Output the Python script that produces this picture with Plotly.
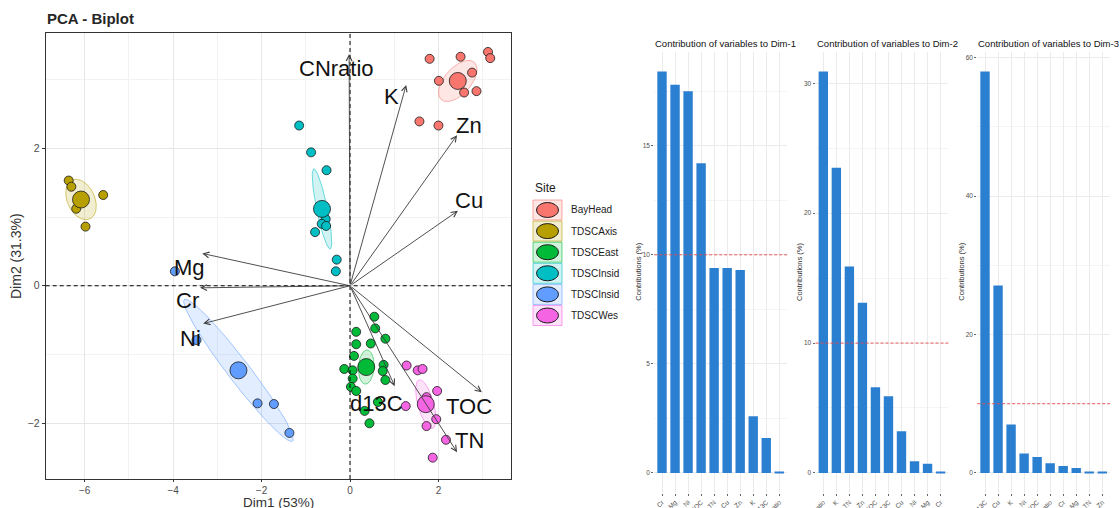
import numpy as np
import plotly.graph_objects as go

W, H = 1120, 508
FONT = "Liberation Sans, Arial, sans-serif"

# ---------------- DATA ----------------
site_labels = ["BayHead", "TDSCAxis", "TDSCEast", "TDSCInsid", "TDSCInsid", "TDSCWes"]
site_colors = ["#F8766D", "#B79F00", "#00BA38", "#00BFC4", "#619CFF", "#F564E3"]

bayhead_x = [1.80, 2.50, 3.12, 3.17, 2.76, 2.01, 2.58, 2.86, 1.57, 2.00]
bayhead_y = [3.30, 3.33, 3.40, 3.31, 3.10, 2.98, 2.81, 2.83, 2.39, 2.33]
axis_x = [-6.36, -6.30, -5.58, -6.19, -5.98]
axis_y = [1.53, 1.44, 1.32, 1.12, 0.86]
east_x = [0.55, 0.14, 0.57, 0.80, 0.14, 0.47, 0.09, 0.76, -0.13, 0.06, 0.74, 0.06, 0.80, 0.02, 0.14, 0.63, 0.33, 0.44]
east_y = [-0.45, -0.67, -0.62, -0.77, -0.85, -0.84, -1.02, -1.15, -1.21, -1.23, -1.24, -1.35, -1.37, -1.47, -1.53, -1.69, -1.82, -2.00]
inside1_x = [-1.15, -0.88, -0.53, -0.55, -0.64, -0.54, -0.79, -0.30, -0.32]
inside1_y = [2.33, 1.94, 1.68, 0.97, 0.90, 0.87, 0.78, 0.38, 0.21]
inside2_x = [-3.96, -3.47, -2.09, -1.72, -1.37]
inside2_y = [0.21, -0.79, -1.71, -1.72, -2.14]
west_x = [1.28, 1.53, 1.64, 1.97, 1.26, 1.73, 1.95, 1.73, 2.17, 1.87]
west_y = [-1.16, -1.23, -1.21, -1.53, -1.75, -1.62, -1.94, -2.04, -2.24, -2.50]

var_names = ["CNratio", "K", "Zn", "Cu", "Mg", "Cr", "Ni", "d13C", "TOC", "TN"]
var_x = [-0.02, 1.27, 2.42, 2.44, -3.34, -3.39, -3.32, 1.01, 2.98, 2.42]
var_y = [3.37, 2.92, 2.19, 1.09, 0.47, -0.03, -0.55, -1.46, -1.55, -2.42]

dim1_vars = ["Cr", "Mg", "Ni", "TOC", "TN", "Cu", "Zn", "K", "d13C", "CNratio"]
dim1_vals = [18.4, 17.8, 17.5, 14.2, 9.4, 9.4, 9.3, 2.6, 1.6, 0.05]
dim2_vars = ["CNratio", "K", "TN", "Zn", "TOC", "d13C", "Cu", "Ni", "Mg", "Cr"]
dim2_vals = [30.9, 23.5, 15.9, 13.1, 6.6, 5.9, 3.2, 0.9, 0.7, 0.05]
dim3_vars = ["d13C", "Cu", "K", "Ni", "TOC", "CNratio", "Cr", "Mg", "TN", "Zn"]
dim3_vals = [58.0, 27.1, 7.0, 2.8, 2.3, 1.4, 1.0, 0.7, 0.2, 0.2]

groups_x = [bayhead_x, axis_x, east_x, inside1_x, inside2_x, west_x]
groups_y = [bayhead_y, axis_y, east_y, inside1_y, inside2_y, west_y]


# ---------------- helpers ----------------
def px_x(p):
    return p / W


def px_y(p):
    return 1 - p / H


def rgba(hexc, a):
    h = hexc.lstrip("#")
    r, g, b = int(h[0:2], 16), int(h[2:4], 16), int(h[4:6], 16)
    return f"rgba({r},{g},{b},{a})"


def conf_ellipse(x, y, chi2=5.991, n=120):
    x = np.asarray(x, float)
    y = np.asarray(y, float)
    cov = np.cov(x, y) / len(x)
    vals, vecs = np.linalg.eigh(cov)
    t = np.linspace(0, 2 * np.pi, n)
    circ = np.stack([np.cos(t), np.sin(t)])
    pts = vecs @ (np.sqrt(np.maximum(vals, 0))[:, None] * circ) * np.sqrt(chi2)
    return x.mean() + pts[0], y.mean() + pts[1]


fig = go.Figure()

# ---------------- biplot ----------------
for gx, gy, col in zip(groups_x, groups_y, site_colors):
    ex, ey = conf_ellipse(gx, gy)
    fig.add_trace(go.Scatter(x=ex, y=ey, mode="lines", fill="toself",
                             fillcolor=rgba(col, 0.18), line=dict(color=rgba(col, 0.55), width=1),
                             hoverinfo="skip", showlegend=False, xaxis="x", yaxis="y"))
for gx, gy, col, nm in zip(groups_x, groups_y, site_colors, site_labels):
    fig.add_trace(go.Scatter(x=gx, y=gy, mode="markers", name=nm,
                             marker=dict(size=9, color=col, line=dict(color="#1a1a1a", width=0.8)),
                             showlegend=False, xaxis="x", yaxis="y"))
for gx, gy, col, nm in zip(groups_x, groups_y, site_colors, site_labels):
    fig.add_trace(go.Scatter(x=[float(np.mean(gx))], y=[float(np.mean(gy))], mode="markers", name=nm,
                             marker=dict(size=17, color=col, line=dict(color="#1a1a1a", width=0.8)),
                             showlegend=False, xaxis="x", yaxis="y"))

annotations = []
shapes = []

# label offsets (pixels) relative to arrow tips
label_shift = {
    "CNratio": (-13, -14), "K": (-15, -12), "Zn": (12, 10), "Cu": (11, 10),
    "Mg": (-13, -14), "Cr": (-13, -13), "Ni": (-13, -15), "d13C": (-18, -17),
    "TOC": (-13, -14), "TN": (12, 12),
}
for nm, vx, vy in zip(var_names, var_x, var_y):
    annotations.append(dict(x=vx, y=vy, ax=0, ay=0, xref="x", yref="y", axref="x", ayref="y",
                            text="", showarrow=True, arrowhead=5, arrowsize=1.25, arrowwidth=0.9,
                            arrowcolor="#3c3c3c", standoff=0, startstandoff=0))
for nm, vx, vy in zip(var_names, var_x, var_y):
    dx, dy = label_shift[nm]
    annotations.append(dict(x=vx, y=vy, xref="x", yref="y", text=nm, showarrow=False,
                            xshift=dx, yshift=dy, xanchor="center", yanchor="middle",
                            font=dict(family=FONT, size=22, color="#111111")))

# zero dashed lines
shapes.append(dict(type="line", xref="x domain", yref="y", x0=0, x1=1, y0=0, y1=0,
                   line=dict(color="#000000", width=1, dash="4px,3px"), layer="above"))
shapes.append(dict(type="line", xref="x", yref="y domain", x0=0, x1=0, y0=0, y1=1,
                   line=dict(color="#000000", width=1, dash="4px,3px"), layer="above"))

# title and axis titles
annotations.append(dict(x=px_x(45), y=px_y(18), xref="paper", yref="paper", text="<b>PCA - Biplot</b>",
                        showarrow=False, xanchor="left", yanchor="middle",
                        font=dict(family=FONT, size=15, color="#262626")))
annotations.append(dict(x=px_x(278), y=px_y(502), xref="paper", yref="paper", text="Dim1 (53%)",
                        showarrow=False, xanchor="center", yanchor="middle",
                        font=dict(family=FONT, size=13.5, color="#333333")))
annotations.append(dict(x=px_x(16), y=px_y(256), xref="paper", yref="paper", text="Dim2 (31.3%)",
                        showarrow=False, xanchor="center", yanchor="middle", textangle=-90,
                        font=dict(family=FONT, size=14, color="#333333")))

# manual legend
annotations.append(dict(x=px_x(533), y=px_y(188), xref="paper", yref="paper", text="Site",
                        showarrow=False, xanchor="left", yanchor="middle",
                        font=dict(family=FONT, size=12, color="#1a1a1a")))
for i, (nm, col) in enumerate(zip(site_labels, site_colors)):
    cy = 210 + i * 21.1
    shapes.append(dict(type="rect", xref="paper", yref="paper",
                       x0=px_x(533), x1=px_x(562), y0=px_y(cy - 10), y1=px_y(cy + 10),
                       fillcolor=rgba(col, 0.18), line=dict(color=rgba(col, 0.6), width=1)))
    shapes.append(dict(type="circle", xref="paper", yref="paper",
                       x0=px_x(536.5), x1=px_x(558.5), y0=px_y(cy - 7.5), y1=px_y(cy + 7.5),
                       fillcolor=col, line=dict(color="#1a1a1a", width=1)))
    annotations.append(dict(x=px_x(569), y=px_y(cy), xref="paper", yref="paper", text=nm,
                            showarrow=False, xanchor="left", yanchor="middle",
                            font=dict(family=FONT, size=10, color="#1a1a1a")))

# ---------------- contribution bar charts ----------------
bar_sets = [(dim1_vars, dim1_vals, "Dim-1", 654.2, 5),
            (dim2_vars, dim2_vals, "Dim-2", 815.5, 10),
            (dim3_vars, dim3_vals, "Dim-3", 977.2, 20)]
bar_top, bar_bot = 51.5, 493.0
panel_w = 132.9
bar_color = "#2B7FD0"

layout_axes = {}
for k, (cats, vals, dname, left, dt) in enumerate(bar_sets):
    ax_i = k + 2
    xa, ya = f"x{ax_i}", f"y{ax_i}"
    fig.add_trace(go.Bar(x=cats, y=vals, width=0.72, marker=dict(color=bar_color, line=dict(width=0)),
                         showlegend=False, xaxis=xa, yaxis=ya))
    vmax = max(vals)
    layout_axes[f"xaxis{ax_i}"] = dict(
        domain=[px_x(left), px_x(left + panel_w)], anchor=ya, type="category", automargin=False,
        categoryorder="array", categoryarray=cats, range=[-0.6, len(cats) - 0.4],
        showgrid=True, gridcolor="#ebebeb", gridwidth=0.8, showline=False, zeroline=False,
        ticks="outside", ticklen=2, tickwidth=0.6, tickcolor="#666666", tickangle=-45,
        tickfont=dict(family=FONT, size=6.5, color="#4d4d4d"))
    layout_axes[f"yaxis{ax_i}"] = dict(
        domain=[px_y(bar_bot), px_y(bar_top)], anchor=xa, range=[-0.05 * vmax, 1.05 * vmax],
        automargin=False,
        tick0=0, dtick=dt, showgrid=True, gridcolor="#ebebeb", gridwidth=0.8,
        minor=dict(dtick=dt / 2, tick0=0, showgrid=True, gridcolor="#f4f4f4", gridwidth=0.6),
        zeroline=False, showline=False,
        ticks="outside", ticklen=2, tickwidth=0.6, tickcolor="#666666",
        tickfont=dict(family=FONT, size=6.5, color="#4d4d4d"))
    # expected average contribution line
    shapes.append(dict(type="line", xref=f"{xa} domain", yref=ya, x0=0, x1=1,
                       y0=100 / len(vals), y1=100 / len(vals),
                       line=dict(color="#e8474a", width=0.9, dash="3px,2px"), layer="above"))
    annotations.append(dict(x=px_x(left - 1), y=px_y(44), xref="paper", yref="paper",
                            text=f"Contribution of variables to {dname}", showarrow=False,
                            xanchor="left", yanchor="middle",
                            font=dict(family=FONT, size=9.5, color="#111111")))
    annotations.append(dict(x=px_x(left - 16.5), y=px_y(272), xref="paper", yref="paper",
                            text="Contributions (%)", showarrow=False, textangle=-90,
                            xanchor="center", yanchor="middle",
                            font=dict(family=FONT, size=7.5, color="#333333")))

fig.update_layout(
    width=W, height=H, margin=dict(l=0, r=0, t=0, b=0, autoexpand=False),
    paper_bgcolor="white", plot_bgcolor="white", showlegend=False,
    font=dict(family=FONT),
    xaxis=dict(domain=[px_x(45.7), px_x(511)], anchor="y", range=[-6.88, 3.64], automargin=False,
               tick0=0, dtick=2, showgrid=True, gridcolor="#e6e6e6", gridwidth=0.8,
               minor=dict(dtick=1, tick0=0, showgrid=True, gridcolor="#f2f2f2", gridwidth=0.6),
               zeroline=False, showline=True, mirror=True, linecolor="#333333", linewidth=1.2,
               ticks="outside", ticklen=2, tickcolor="#333333",
               tickfont=dict(family=FONT, size=10, color="#4d4d4d")),
    yaxis=dict(domain=[px_y(479), px_y(32.7)], anchor="x", range=[-2.81, 3.68], automargin=False,
               tick0=0, dtick=2, showgrid=True, gridcolor="#e6e6e6", gridwidth=0.8,
               minor=dict(dtick=1, tick0=0, showgrid=True, gridcolor="#f2f2f2", gridwidth=0.6),
               zeroline=False, showline=True, mirror=True, linecolor="#333333", linewidth=1.2,
               ticks="outside", ticklen=3, tickcolor="#333333",
               tickfont=dict(family=FONT, size=10.5, color="#4d4d4d")),
    annotations=annotations, shapes=shapes, bargap=0.28,
    **layout_axes,
)

fig.write_html("out.html", config={"displayModeBar": False},
               post_script="document.body.style.margin='0';")
